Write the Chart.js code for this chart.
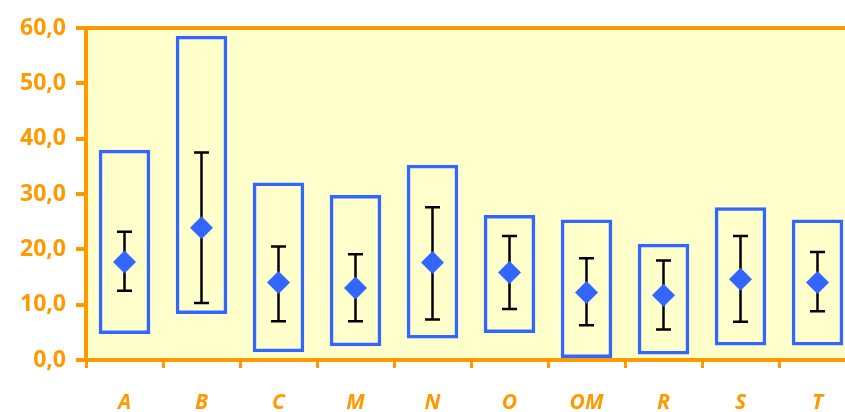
<!DOCTYPE html>
<html lang="en">
<head>
<meta charset="UTF-8">
<title>Box chart</title>
<script src="https://cdn.jsdelivr.net/npm/chart.js"></script>
<style>
  html, body { margin: 0; padding: 0; background: #fff; overflow: hidden; }
  #wrap { width: 845px; height: 412px; overflow: hidden; }
</style>
</head>
<body>
<div id="wrap"><canvas id="boxChart" width="872" height="412"></canvas></div>
<script>
// categories and values
const categories = ['A', 'B', 'C', 'M', 'N', 'O', 'OM', 'R', 'S', 'T'];
const boxLow  = [4.7, 8.3, 1.4, 2.5, 3.9, 4.9, 0.0, 1.0, 2.6, 2.6];
const boxHigh = [38.0, 58.6, 32.1, 29.8, 35.3, 26.2, 25.4, 21.0, 27.6, 25.4];
const means   = [17.7, 23.9, 14.0, 13.0, 17.6, 15.8, 12.2, 11.7, 14.6, 14.0];
const errLow  = [12.5, 10.3, 7.0, 7.0, 7.3, 9.2, 6.3, 5.5, 6.9, 8.8];
const errHigh = [23.2, 37.5, 20.5, 19.1, 27.6, 22.4, 18.4, 18.0, 22.4, 19.5];
const yTicks  = [0, 10, 20, 30, 40, 50, 60];

const ORANGE = '#FF9900';
const BLUE = '#3366FF';
const FONT = "'Comic Sans MS', 'Noto Sans', sans-serif";

// yellow plot area and orange top border
const backdrop = {
  id: 'backdrop',
  beforeDraw(chart) {
    const { ctx, chartArea: a } = chart;
    ctx.save();
    ctx.fillStyle = '#FFFFCC';
    ctx.fillRect(a.left, a.top, a.right - a.left, a.bottom - a.top);
    ctx.strokeStyle = ORANGE;
    ctx.lineWidth = 4;
    ctx.beginPath();
    ctx.moveTo(a.left - 10, a.top);
    ctx.lineTo(a.right, a.top);
    ctx.stroke();
    ctx.restore();
  }
};

// black error bars, drawn before the diamonds
const errorBars = {
  id: 'errorBars',
  beforeDatasetDraw(chart, args) {
    if (args.index !== 1) return;
    const { ctx } = chart;
    const x = chart.scales.x, y = chart.scales.y;
    ctx.save();
    ctx.strokeStyle = '#000';
    ctx.lineWidth = 2.5;
    categories.forEach((c, i) => {
      const px = x.getPixelForValue(i);
      const top = y.getPixelForValue(errHigh[i]);
      const bot = y.getPixelForValue(errLow[i]);
      ctx.beginPath();
      ctx.moveTo(px, top); ctx.lineTo(px, bot);
      ctx.moveTo(px - 7.5, top); ctx.lineTo(px + 7.5, top);
      ctx.moveTo(px - 7.5, bot); ctx.lineTo(px + 7.5, bot);
      ctx.stroke();
    });
    ctx.restore();
  }
};

const ctx = document.getElementById('boxChart').getContext('2d');
new Chart(ctx, {
  type: 'bar',
  data: {
    labels: categories,
    datasets: [{
      type: 'bar',
      data: boxLow.map((v, i) => [v, boxHigh[i]]),
      backgroundColor: 'rgba(0,0,0,0)',
      borderColor: BLUE,
      borderWidth: 3.5,
      borderSkipped: false,
      inflateAmount: 0,
      barPercentage: 0.67,
      categoryPercentage: 1.0,
      order: 2
    }, {
      type: 'line',
      data: means,
      showLine: false,
      pointStyle: 'rectRot',
      pointRadius: 11.5,
      pointHoverRadius: 11.5,
      pointBackgroundColor: BLUE,
      pointBorderColor: BLUE,
      pointBorderWidth: 0,
      order: 1
    }]
  },
  options: {
    responsive: false,
    animation: false,
    layout: { padding: { top: 28, right: 16, left: 0, bottom: 0 } },
    plugins: { legend: { display: false }, tooltip: { enabled: false } },
    scales: {
      x: {
        offset: true,
        afterFit(scale) { scale.height = 52; },
        grid: { display: true, drawOnChartArea: false, drawTicks: true, tickLength: 8, color: ORANGE, lineWidth: 3, offset: true },
        border: { display: true, color: ORANGE, width: 4 },
        ticks: { color: ORANGE, padding: 22, font: { family: FONT, size: 21, weight: 'bold', style: 'italic' } }
      },
      y: {
        min: 0,
        max: 60,
        afterFit(scale) { scale.width = 86; },
        afterBuildTicks(scale) { scale.ticks = yTicks.map(v => ({ value: v })); },
        grid: { display: true, drawOnChartArea: false, drawTicks: true, tickLength: 10, color: ORANGE, lineWidth: 4 },
        border: { display: true, color: ORANGE, width: 4 },
        ticks: {
          color: ORANGE,
          padding: 10,
          font: { family: FONT, size: 23, weight: 'bold' },
          callback: v => v.toFixed(1).replace('.', ',')
        }
      }
    }
  },
  plugins: [backdrop, errorBars]
});
</script>
</body>
</html>
